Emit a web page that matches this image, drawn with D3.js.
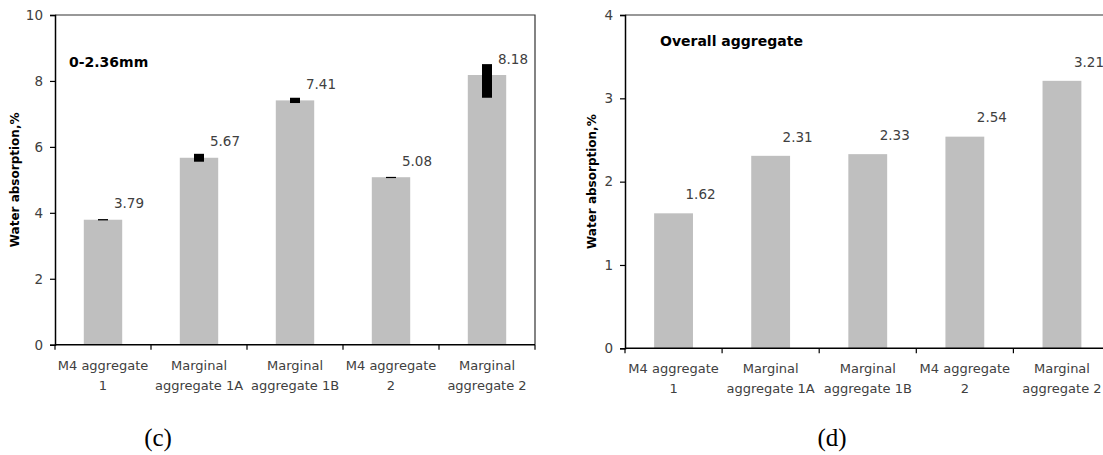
<!DOCTYPE html>
<html>
<head>
<meta charset="utf-8">
<script src="https://cdn.jsdelivr.net/npm/d3@7"></script>
<style>
  html, body { margin: 0; padding: 0; background: #fff; }
  svg { display: block; }
</style>
</head>
<body>
<svg id="fig" width="1103" height="455"></svg>
<script>
// Aggregate categories (shared by both panels), each label split over two lines
const categories = [
  ["M4 aggregate", "1"],
  ["Marginal", "aggregate 1A"],
  ["Marginal", "aggregate 1B"],
  ["M4 aggregate", "2"],
  ["Marginal", "aggregate 2"]
];

// Panel (c): 0-2.36mm fraction, water absorption in %
const fineValues = [3.79, 5.67, 7.41, 5.08, 8.18];
const fineErrUp = [0.02, 0.12, 0.08, 0.01, 0.33];
const fineErrDown = [0.02, 0.12, 0.08, 0.01, 0.69];
const fineTicks = [0, 2, 4, 6, 8, 10];

// Panel (d): overall aggregate, water absorption in %
const overallValues = [1.62, 2.31, 2.33, 2.54, 3.21];
const overallTicks = [0, 1, 2, 3, 4];

const svg = d3.select("#fig");
const FONT = "'DejaVu Sans', Verdana, sans-serif";
const TEXT = "#404040";

function drawPanel(opts) {
  const g = svg.append("g");
  const x = d3.scaleBand()
    .domain(d3.range(categories.length))
    .range([opts.x0, opts.x1])
    .paddingInner(0.6)
    .paddingOuter(0.3);
  const xb = d3.scaleBand()
    .domain(d3.range(categories.length))
    .range([opts.x0, opts.x1]);
  const y = d3.scaleLinear()
    .domain([0, d3.max(opts.ticks)])
    .range([opts.y0, opts.y1]);

  // frame: top and right borders
  g.append("path")
    .attr("d", `M${opts.x0},${opts.y1}H${opts.x1}V${opts.y0}`)
    .attr("fill", "none")
    .attr("stroke", "#333")
    .attr("stroke-width", 1.2);

  // bars
  g.selectAll("rect.bar")
    .data(opts.values)
    .join("rect")
    .attr("class", "bar")
    .attr("x", (d, i) => x(i))
    .attr("width", x.bandwidth())
    .attr("y", d => y(d))
    .attr("height", d => y(0) - y(d))
    .attr("fill", "#bfbfbf");

  // error bars, drawn as thick black strokes
  if (opts.errUp) {
    g.selectAll("rect.err")
      .data(opts.values)
      .join("rect")
      .attr("class", "err")
      .attr("x", (d, i) => xb(i) + xb.bandwidth() / 2 - 5)
      .attr("width", 10)
      .attr("y", (d, i) => y(d + opts.errUp[i]))
      .attr("height", (d, i) => Math.max(1.2, y(d - opts.errDown[i]) - y(d + opts.errUp[i])))
      .attr("fill", "#000");
  }

  // value labels
  g.selectAll("text.val")
    .data(opts.values)
    .join("text")
    .attr("class", "val")
    .attr("x", (d, i) => xb(i) + xb.bandwidth() / 2 + opts.labDx)
    .attr("y", d => y(d) - opts.labDy)
    .attr("dy", "0.35em")
    .attr("text-anchor", "middle")
    .attr("font-family", FONT)
    .attr("font-size", 13.5)
    .attr("fill", TEXT)
    .text(d => d.toFixed(2));

  // y axis
  const yAxis = g.append("g")
    .attr("transform", `translate(${opts.x0},0)`)
    .call(d3.axisLeft(y).tickValues(opts.ticks).tickFormat(d3.format("d"))
      .tickSize(5).tickPadding(7));
  yAxis.select(".domain").attr("stroke", "#000").attr("stroke-width", 1.5);
  yAxis.selectAll(".tick line").attr("stroke", "#000").attr("stroke-width", 1.2);
  yAxis.selectAll(".tick text")
    .attr("font-family", FONT).attr("font-size", 13.5).attr("fill", TEXT);

  // x axis with ticks at the category boundaries
  const xAxisG = g.append("g").attr("transform", `translate(0,${opts.y0})`);
  xAxisG.append("line")
    .attr("x1", opts.x0).attr("x2", opts.x1)
    .attr("stroke", "#000").attr("stroke-width", 1.5);
  const bounds = d3.range(categories.length + 1).map(i =>
    i < categories.length ? xb(i) : xb(i - 1) + xb.bandwidth());
  xAxisG.selectAll("line.tk")
    .data(bounds)
    .join("line")
    .attr("class", "tk")
    .attr("x1", d => d).attr("x2", d => d)
    .attr("y1", 0).attr("y2", 5)
    .attr("stroke", "#000").attr("stroke-width", 1.2);

  const cat = xAxisG.selectAll("text.cat")
    .data(categories)
    .join("text")
    .attr("class", "cat")
    .attr("text-anchor", "middle")
    .attr("font-family", FONT)
    .attr("font-size", 13)
    .attr("fill", TEXT)
    .attr("transform", (d, i) => `translate(${xb(i) + xb.bandwidth() / 2},0)`);
  cat.selectAll("tspan")
    .data(d => d)
    .join("tspan")
    .attr("x", 0)
    .attr("y", (d, j) => 25 + j * 20)
    .text(d => d);

  // y axis title
  g.append("text")
    .attr("transform", `translate(${opts.titleX},${(opts.y0 + opts.y1) / 2}) rotate(-90)`)
    .attr("text-anchor", "middle")
    .attr("dy", "0.35em")
    .attr("font-family", FONT)
    .attr("font-weight", "bold")
    .attr("font-size", 12)
    .attr("fill", "#000")
    .text("Water absorption,%");

  // panel heading inside the plot
  g.append("text")
    .attr("x", opts.headX)
    .attr("y", opts.headY)
    .attr("font-family", FONT)
    .attr("font-weight", "bold")
    .attr("font-size", 14)
    .attr("fill", "#000")
    .text(opts.heading);

  // caption under the panel
  g.append("text")
    .attr("x", opts.capX)
    .attr("y", 446)
    .attr("text-anchor", "middle")
    .attr("font-family", "'Liberation Serif', 'Times New Roman', serif")
    .attr("font-size", 25)
    .attr("fill", "#000")
    .text(opts.caption);
}

drawPanel({
  x0: 55, x1: 535, y0: 344.7, y1: 15,
  values: fineValues, errUp: fineErrUp, errDown: fineErrDown,
  ticks: fineTicks,
  labDx: 26, labDy: 16,
  titleX: 15, headX: 69, headY: 67,
  heading: "0-2.36mm",
  capX: 158, caption: "(c)"
});

drawPanel({
  x0: 625, x1: 1110.5, y0: 348.3, y1: 15,
  values: overallValues,
  ticks: overallTicks,
  labDx: 27, labDy: 19,
  titleX: 592, headX: 660, headY: 46,
  heading: "Overall aggregate",
  capX: 832, caption: "(d)"
});
</script>
</body>
</html>
